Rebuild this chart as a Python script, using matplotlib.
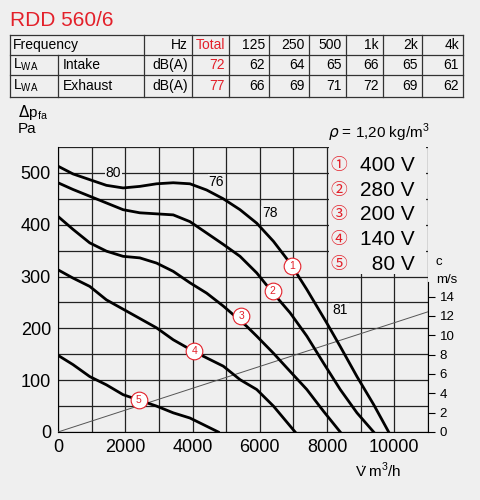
import matplotlib
matplotlib.use('Agg')
import matplotlib.pyplot as plt
import numpy as np

plt.rcParams['font.family'] = ['Liberation Sans', 'DejaVu Sans', 'Noto Sans CJK JP']

RED = '#e3202a'
BG = '#efefef'

# Tabelle
header = ['Frequency', '', 'Hz', 'Total', '125', '250', '500', '1k', '2k', '4k']
intake = ['L', 'Intake', 'dB(A)', '72', '62', '64', '65', '66', '65', '61']
exhaust = ['L', 'Exhaust', 'dB(A)', '77', '66', '69', '71', '72', '69', '62']

# Kennlinien (m3/h, Pa)
c1_x = [0, 447, 943, 1440, 1936, 2433, 2930, 3426, 3922, 4419, 4915, 5412, 5908, 6405, 6900, 7398, 7994, 8391, 8888, 9384, 9831]
c1_y = [513, 498, 487, 476, 471, 474, 479, 481, 479, 467, 450, 429, 403, 368, 326, 275, 210, 165, 107, 53, 0]
c2_x = [0, 447, 943, 1440, 1936, 2433, 2930, 3426, 3922, 4419, 4915, 5412, 5908, 6306, 6900, 7398, 7894, 8391, 8888, 9384]
c2_y = [481, 468, 455, 442, 429, 423, 421, 419, 406, 384, 362, 339, 307, 275, 230, 185, 133, 82, 37, 0]
c3_x = [0, 447, 943, 1440, 1936, 2433, 2930, 3426, 3922, 4419, 4915, 5610, 5908, 6405, 6900, 7398, 7894, 8391]
c3_y = [416, 391, 365, 349, 339, 336, 326, 310, 288, 268, 243, 204, 185, 152, 117, 82, 40, 0]
c4_x = [0, 447, 943, 1440, 2185, 2930, 3426, 4022, 4419, 4915, 5412, 5908, 6405, 7050]
c4_y = [313, 297, 281, 255, 228, 201, 178, 156, 143, 127, 101, 82, 50, 0]
c5_x = [0, 447, 943, 1440, 1936, 2930, 3426, 3922, 4766]
c5_y = [148, 130, 107, 91, 72, 50, 37, 27, 0]
curves = [(c1_x, c1_y), (c2_x, c2_y), (c3_x, c3_y), (c4_x, c4_y), (c5_x, c5_y)]
marker_pos = [(6951, 320), (6385, 273), (5442, 223), (4051, 156), (2403, 62)]
voltages = ['400 V', '280 V', '200 V', '140 V', ' 80 V']
sound_labels = [('80', 1650, 500), ('76', 4700, 483), ('78', 6300, 422), ('81', 8400, 235)]

W, H = 481, 500
fig = plt.figure(figsize=(4.81, 5.0), dpi=100)
fig.patch.set_facecolor(BG)

# Titel
fig.text(10/W, 1-20/H, 'RDD 560/6', color=RED, fontsize=15, va='center', ha='left')

# Tabelle zeichnen
cols = [10, 58, 144, 192, 229, 269, 309, 346, 383, 422, 463]
rows = [35, 55, 75, 97]
for r in rows:
    fig.add_artist(plt.Line2D([cols[0]/W, cols[-1]/W], [1-r/H, 1-r/H], color='#333', lw=0.9))
for i, c in enumerate(cols):
    top = rows[1] if i == 1 else rows[0]
    fig.add_artist(plt.Line2D([c/W, c/W], [1-top/H, 1-rows[-1]/H], color='#333', lw=0.9))
fs = 10
yc = [(rows[i]+rows[i+1])/2 for i in range(3)]
fig.text(13/W, 1-yc[0]/H, 'Frequency', fontsize=fs, va='center')
for j, row in enumerate([header, intake, exhaust]):
    for k in range(2, 10):
        col = RED if k == 3 else 'black'
        fig.text((cols[k+1]-4)/W, 1-yc[j]/H, row[k], fontsize=fs, va='center', ha='right', color=col)
for j, row in enumerate([intake, exhaust], start=1):
    fig.text(13/W, 1-yc[j]/H, r'L$_{\mathregular{WA}}$', fontsize=fs, va='center')
    fig.text(63/W, 1-yc[j]/H, row[1], fontsize=fs, va='center')

fig.text(18/W, 1-112/H, r'$\Delta$p$_{\mathregular{fa}}$', fontsize=11, va='center')
fig.text(18/W, 1-129/H, 'Pa', fontsize=11, va='center')
fig.text(328/W, 1-133/H, r'$\rho$ = 1,20 kg/m$^{\mathregular{3}}$', fontsize=11, va='center')

ax = fig.add_axes([58/W, 1-432/H, (428-58)/W, (432-147)/H])
ax.set_facecolor(BG)
ax.set_xlim(0, 11000)
ax.set_ylim(0, 550)
ax.set_xticks([0, 2000, 4000, 6000, 8000, 10000])
ax.set_xticks(np.arange(0, 11001, 1000), minor=True)
ax.set_yticks([0, 100, 200, 300, 400, 500])
ax.set_yticks(np.arange(0, 551, 50), minor=True)
ax.grid(True, which='both', color='#222', lw=0.9)
ax.tick_params(which='both', length=0, labelsize=13, pad=5)
for s in ax.spines.values():
    s.set_visible(False)
ax.spines['left'].set_visible(True)
ax.spines['bottom'].set_visible(True)

# Geschwindigkeitslinie
ax.plot([0, 11000], [0, 232], color='#555', lw=0.7, zorder=3)

for (x, y) in curves:
    ax.plot(x, y, color='black', lw=2, zorder=4, solid_joinstyle='round')
for i, (mx, my) in enumerate(marker_pos):
    ax.plot(mx, my, 'o', ms=12, mfc='white', mec=RED, mew=0.8, zorder=5)
    ax.text(mx, my, str(i+1), color=RED, fontsize=7.5, ha='center', va='center', zorder=6)
for t, x, y in sound_labels:
    ax.text(x, y, t, fontsize=10, ha='center', va='center', zorder=6,
            bbox=dict(fc=BG, ec='none', pad=0.5))

# Legende
ax.add_patch(plt.Rectangle((8050, 305), 2900, 250, fc=BG, ec='none', zorder=7))
for i, v in enumerate(voltages):
    yy = 515 - i*48
    ax.text(8350, yy, '①②③④⑤'[i], color=RED, fontsize=12, ha='center', va='center', zorder=8,
            family=['Noto Sans CJK JP', 'DejaVu Sans'])
    ax.text(10600, yy, v, fontsize=15, ha='right', va='center', zorder=8)

# rechte Achse c m/s
ax2 = ax.twinx()
ax2.set_ylim(0, 550/18.67)
ax2.set_yticks(np.arange(0, 15, 2))
ax2.tick_params(labelsize=9.5, length=5, direction='out')
for s in ax2.spines.values():
    s.set_visible(False)
ax2.spines['right'].set_visible(True)
ax2.spines['right'].set_bounds(0, 15.5)
fig.text(436/W, 1-262/H, 'c', fontsize=9.5, va='center')
fig.text(436/W, 1-280/H, 'm/s', fontsize=9.5, va='center')

fig.text(355/W, 1-470/H, r'V$\!\!^{\cdot}$ m$^{\mathregular{3}}$/h', fontsize=11, va='center')

fig.savefig('out.png', dpi=100, facecolor=BG)
